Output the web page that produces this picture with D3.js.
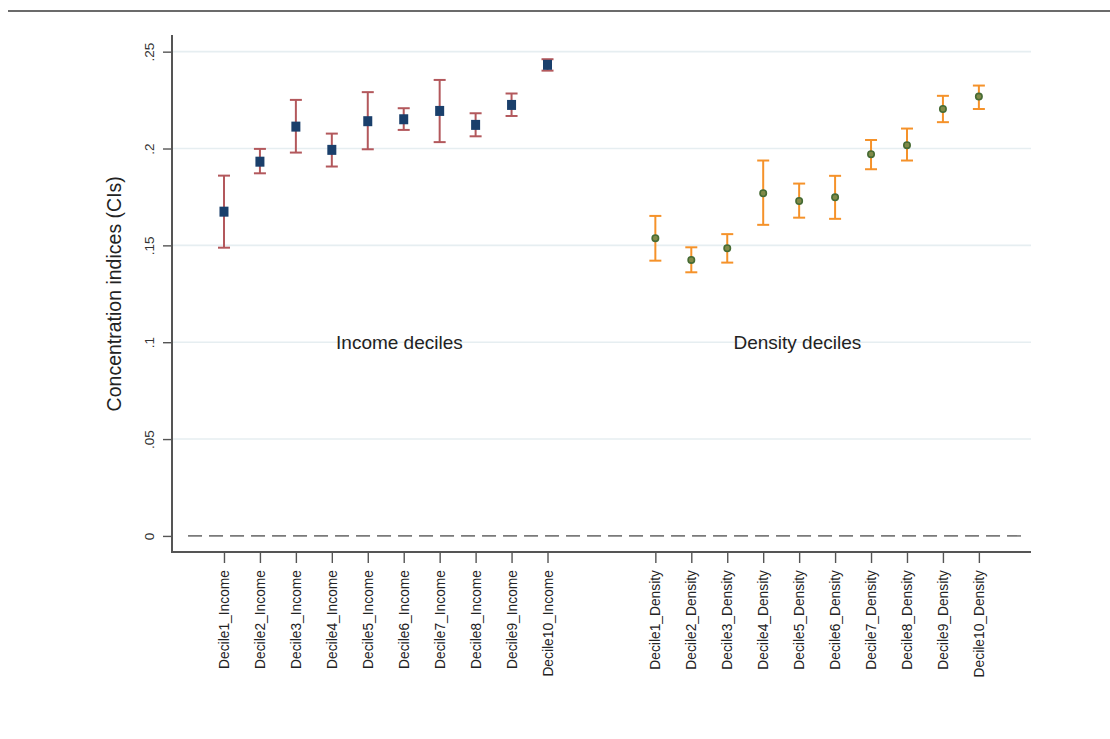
<!DOCTYPE html>
<html>
<head>
<meta charset="utf-8">
<script src="https://cdn.jsdelivr.net/npm/d3@7"></script>
<style>
  html, body { margin: 0; padding: 0; background: #fff; }
  svg { display: block; font-family: "Liberation Sans", Arial, sans-serif; }
</style>
</head>
<body>
<svg id="chart" width="1110" height="739"></svg>
<script>
// Concentration indices with 95% confidence intervals, by income and density decile
const incomeLabels = ["Decile1_Income","Decile2_Income","Decile3_Income","Decile4_Income","Decile5_Income",
                      "Decile6_Income","Decile7_Income","Decile8_Income","Decile9_Income","Decile10_Income"];
const incomeCI   = [0.1674, 0.1932, 0.2113, 0.1993, 0.2141, 0.2151, 0.2194, 0.2122, 0.2225, 0.2432];
const incomeLow  = [0.1488, 0.1872, 0.1979, 0.1907, 0.1996, 0.2096, 0.2033, 0.2063, 0.2168, 0.2402];
const incomeHigh = [0.1860, 0.1998, 0.2251, 0.2077, 0.2291, 0.2208, 0.2354, 0.2182, 0.2284, 0.2461];

const densityLabels = ["Decile1_Density","Decile2_Density","Decile3_Density","Decile4_Density","Decile5_Density",
                       "Decile6_Density","Decile7_Density","Decile8_Density","Decile9_Density","Decile10_Density"];
const densityCI   = [0.1537, 0.1425, 0.1485, 0.1769, 0.1729, 0.1748, 0.1971, 0.2017, 0.2204, 0.2268];
const densityLow  = [0.1421, 0.1361, 0.1411, 0.1606, 0.1643, 0.1637, 0.1893, 0.1938, 0.2136, 0.2204];
const densityHigh = [0.1652, 0.1490, 0.1558, 0.1938, 0.1819, 0.1859, 0.2044, 0.2103, 0.2272, 0.2325];

const yTicks = [0, 0.05, 0.1, 0.15, 0.2, 0.25];
const yTickLabels = ["0", ".05", ".1", ".15", ".2", ".25"];

// slot positions along the x axis: income deciles 1..10, density deciles 13..22
const incomePos = d3.range(1, 11);
const densityPos = d3.range(13, 23);

const groupTexts = [
  { text: "Income deciles", pos: 5.88, value: 0.1 },
  { text: "Density deciles", pos: 16.95, value: 0.1 }
];

const plot = { left: 172, right: 1031, top: 35, bottom: 552 };

const svg = d3.select("#chart");

const x = d3.scaleLinear().domain([-0.446, 23.45]).range([plot.left, plot.right]);
const y = d3.scaleLinear().domain([-0.0083, 0.2586]).range([plot.bottom, plot.top]);

// rule across the top of the page
svg.append("line")
  .attr("x1", 8).attr("x2", 1110).attr("y1", 11).attr("y2", 11)
  .attr("stroke", "#3a3a3a").attr("stroke-width", 1.6);

// horizontal grid
svg.append("g").selectAll("line")
  .data(yTicks.filter(d => d > 0))
  .join("line")
  .attr("x1", plot.left).attr("x2", plot.right)
  .attr("y1", d => y(d)).attr("y2", d => y(d))
  .attr("stroke", "#e6eef1").attr("stroke-width", 1.6);

// zero reference line
svg.append("line")
  .attr("x1", x(0)).attr("x2", x(23.2))
  .attr("y1", y(0)).attr("y2", y(0))
  .attr("stroke", "#7a7a7a").attr("stroke-width", 1.6)
  .attr("stroke-dasharray", "14 7");

// y axis
const yAxis = d3.axisLeft(y)
  .tickValues(yTicks)
  .tickFormat((d, i) => yTickLabels[i])
  .tickSize(9)
  .tickPadding(0);

const gy = svg.append("g")
  .attr("transform", `translate(${plot.left},0)`)
  .call(yAxis);
gy.select(".domain").remove();
gy.selectAll(".tick line").attr("stroke", "#555").attr("stroke-width", 1.4);
gy.selectAll(".tick text")
  .attr("x", null).attr("dy", null)
  .attr("transform", "translate(-18,0) rotate(-90)")
  .attr("text-anchor", "middle")
  .attr("dy", "0")
  .attr("fill", "#333")
  .style("font-size", "13.5px");

svg.append("line")
  .attr("x1", plot.left).attr("x2", plot.left)
  .attr("y1", plot.top).attr("y2", plot.bottom)
  .attr("stroke", "#555").attr("stroke-width", 2);

// x axis
const allPos = incomePos.concat(densityPos);
const allLabels = incomeLabels.concat(densityLabels);
const xAxis = d3.axisBottom(x)
  .tickValues(allPos)
  .tickFormat((d, i) => allLabels[i])
  .tickSize(11)
  .tickPadding(0);

const gx = svg.append("g")
  .attr("transform", `translate(0,${plot.bottom})`)
  .call(xAxis);
gx.select(".domain").remove();
gx.selectAll(".tick line").attr("stroke", "#555").attr("stroke-width", 1.4);
gx.selectAll(".tick text")
  .attr("y", null).attr("dy", null)
  .attr("transform", "translate(4.5,18) rotate(-90)")
  .attr("text-anchor", "end")
  .attr("fill", "#222")
  .style("font-size", "13.8px");

svg.append("line")
  .attr("x1", plot.left - 1).attr("x2", plot.right)
  .attr("y1", plot.bottom).attr("y2", plot.bottom)
  .attr("stroke", "#555").attr("stroke-width", 2);

// y axis title
svg.append("text")
  .attr("transform", `translate(121,${(y(0.25) + y(0)) / 2}) rotate(-90)`)
  .attr("text-anchor", "middle")
  .attr("fill", "#222")
  .style("font-size", "19.5px")
  .text("Concentration indices (CIs)");

// group captions
svg.append("g").selectAll("text")
  .data(groupTexts)
  .join("text")
  .attr("x", d => x(d.pos))
  .attr("y", d => y(d.value))
  .attr("dy", "0.36em")
  .attr("text-anchor", "middle")
  .attr("fill", "#222")
  .style("font-size", "19px")
  .text(d => d.text);

// error bars with caps
function drawBars(pos, low, high, color, cap) {
  const g = svg.append("g").attr("stroke", color).attr("stroke-width", 2).attr("fill", "none");
  const rows = pos.map((p, i) => ({ p, lo: low[i], hi: high[i] }));
  g.selectAll(".stem").data(rows).join("line").attr("class", "stem")
    .attr("x1", d => x(d.p)).attr("x2", d => x(d.p))
    .attr("y1", d => y(d.lo)).attr("y2", d => y(d.hi));
  g.selectAll(".capHi").data(rows).join("line").attr("class", "capHi")
    .attr("x1", d => x(d.p) - cap / 2).attr("x2", d => x(d.p) + cap / 2)
    .attr("y1", d => y(d.hi)).attr("y2", d => y(d.hi));
  g.selectAll(".capLo").data(rows).join("line").attr("class", "capLo")
    .attr("x1", d => x(d.p) - cap / 2).attr("x2", d => x(d.p) + cap / 2)
    .attr("y1", d => y(d.lo)).attr("y2", d => y(d.lo));
}

drawBars(incomePos, incomeLow, incomeHigh, "#b3585c", 12);
drawBars(densityPos, densityLow, densityHigh, "#f5922a", 12);

// income point estimates: navy squares
svg.append("g").selectAll("rect")
  .data(incomePos.map((p, i) => ({ p, v: incomeCI[i] })))
  .join("rect")
  .attr("x", d => x(d.p) - 4.5)
  .attr("y", d => y(d.v) - 5)
  .attr("width", 9).attr("height", 10)
  .attr("fill", "#1a3f6b");

// density point estimates: small green markers
svg.append("g").selectAll("circle")
  .data(densityPos.map((p, i) => ({ p, v: densityCI[i] })))
  .join("circle")
  .attr("cx", d => x(d.p))
  .attr("cy", d => y(d.v))
  .attr("r", 3.2)
  .attr("fill", "#7f8a48")
  .attr("stroke", "#466b34")
  .attr("stroke-width", 1.6);
</script>
</body>
</html>
